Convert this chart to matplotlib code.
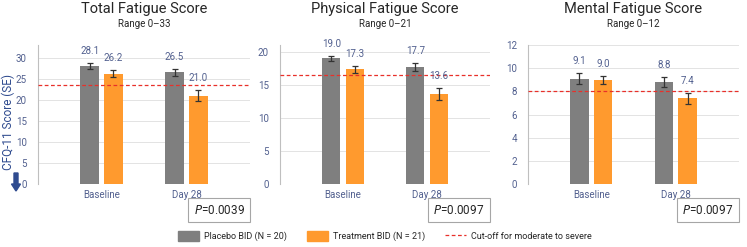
import numpy as np
import matplotlib.pyplot as plt
from matplotlib.patches import Patch, FancyArrow
from matplotlib.lines import Line2D

plt.rcParams['font.family'] = ['Roboto', 'DejaVu Sans']

# data
visits = ['Baseline', 'Day 28']
titles = ['Total Fatigue Score', 'Physical Fatigue Score', 'Mental Fatigue Score']
ranges = ['Range 0\u201333', 'Range 0\u201321', 'Range 0\u201312']
y_max = [33, 21, 12]
y_step = [5, 5, 2]
placebo = [[28.1, 26.5], [19.0, 17.7], [9.1, 8.8]]
placebo_se = [[0.7, 0.9], [0.35, 0.6], [0.45, 0.4]]
treatment = [[26.2, 21.0], [17.3, 13.6], [9.0, 7.4]]
treatment_se = [[0.8, 1.35], [0.55, 0.9], [0.35, 0.47]]
cutoff = [23.5, 16.4, 8.0]
p_values = ['0.0039', '0.0097', '0.0097']

gray = '#7F7F7F'
orange = '#FF9A2E'
tick_col = '#52608F'
red = '#E8302A'

W, H = 747, 247
fig = plt.figure(figsize=(W / 100, H / 100), dpi=100)

# axes boxes in pixels (left, right)
boxes = [(38, 250), (280, 490), (528, 739)]
ax_bottom, ax_top = 184, 45

x = np.arange(len(visits))
bw = 0.22
off = 0.14

for i in range(3):
    l, r = boxes[i]
    ax = fig.add_axes([l / W, 1 - ax_bottom / H, (r - l) / W, (ax_bottom - ax_top) / H])
    ax.bar(x - off, placebo[i], bw, color=gray, zorder=3)
    ax.bar(x + off, treatment[i], bw, color=orange, zorder=3)
    ax.errorbar(x - off, placebo[i], yerr=placebo_se[i], fmt='none', ecolor='#333333',
                elinewidth=0.9, capsize=2, capthick=0.9, zorder=4)
    ax.errorbar(x + off, treatment[i], yerr=treatment_se[i], fmt='none', ecolor='#333333',
                elinewidth=0.9, capsize=2, capthick=0.9, zorder=4)
    for xs, vals, ses in [(x - off, placebo[i], placebo_se[i]), (x + off, treatment[i], treatment_se[i])]:
        for xx, v, s in zip(xs, vals, ses):
            ax.annotate('%.1f' % v, (xx, v + s), xytext=(0, 5), textcoords='offset points',
                        ha='center', va='bottom', fontsize=7, color=tick_col, zorder=6)
    ax.axhline(cutoff[i], color=red, lw=0.9, ls=(0, (3, 2)), zorder=5)

    ax.set_xlim(-0.75, 1.75)
    ax.set_ylim(0, y_max[i])
    ax.set_yticks(np.arange(0, y_max[i] + 0.1, y_step[i]))
    ax.set_xticks(x)
    ax.set_xticklabels(visits)
    ax.tick_params(axis='both', length=0, labelsize=7, colors=tick_col)
    ax.tick_params(axis='y', pad=8)
    ax.tick_params(axis='x', pad=4)
    ax.grid(axis='y', color='#E3E3E3', lw=0.7, zorder=0)
    for sp in ['top', 'right', 'bottom']:
        ax.spines[sp].set_visible(False)
    ax.spines['left'].set_color('#BFBFBF')
    ax.spines['left'].set_linewidth(0.8)

    cx = (l + r) / 2
    fig.text(cx / W, 1 - 9 / H, titles[i], ha='center', va='center', fontsize=10.5, color='#262626')
    fig.text(cx / W, 1 - 24 / H, ranges[i], ha='center', va='center', fontsize=7, color='#262626')

    # p-value box
    fig.text((r - 31) / W, 1 - 210 / H, '$\\it{P}$=' + p_values[i], ha='center', va='center',
             fontsize=8.5, color='#262626',
             bbox=dict(boxstyle='square,pad=0.5', fc='white', ec='#A6A6A6', lw=0.8))

fig.text(8 / W, 1 - 122 / H, 'CFQ-11 Score (SE)', rotation=90, ha='center', va='center',
         fontsize=8.5, color='#2F4B8F')
fig.patches.append(FancyArrow(
    16 / W, 1 - 173 / H, 0, -18 / H, width=4 / W, head_width=9 / W, head_length=7 / H,
    length_includes_head=True, color='#2F4B8F', transform=fig.transFigure, figure=fig))

handles = [Patch(color=gray), Patch(color=orange),
           Line2D([0], [0], color=red, lw=0.9, ls=(0, (3, 2)))]
labels = ['Placebo BID (N = 20)', 'Treatment BID (N = 21)', 'Cut-off for moderate to severe']
leg = fig.legend(handles, labels, loc='center', bbox_to_anchor=(385 / W, 1 - 236 / H), ncol=3,
                 frameon=False, fontsize=6.5, handlelength=2.3, handleheight=1.3,
                 columnspacing=2.2, handletextpad=0.6)
for t in leg.get_texts():
    t.set_color('#262626')

fig.savefig('out.png', dpi=100)
